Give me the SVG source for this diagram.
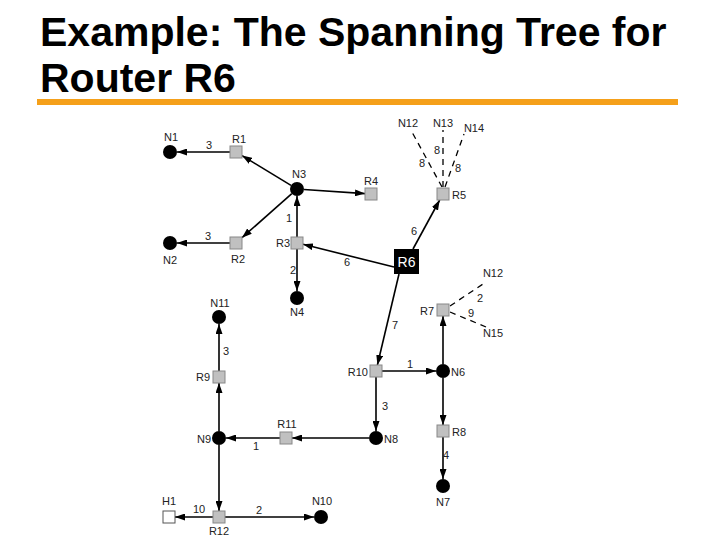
<svg xmlns="http://www.w3.org/2000/svg" width="720" height="540" viewBox="0 0 720 540">
<defs>
<style>
.title{font-family:"Liberation Sans",Arial,sans-serif;font-weight:bold;font-size:41px;fill:#000}
.lbl{font-family:"Liberation Sans",Arial,sans-serif;font-size:11px;fill:#222}
.c{text-anchor:middle}
.e{text-anchor:end}
.edge{stroke:#000;stroke-width:1.6;fill:none;marker-end:url(#arr)}
.dash{stroke:#000;stroke-width:1.3;fill:none;stroke-dasharray:6,5}
.net{fill:#000}
.rt{fill:#c0c0c0;stroke:#888;stroke-width:1}
.host{fill:#fff;stroke:#555;stroke-width:1}
</style>
<marker id="arr" viewBox="0 0 10 10" refX="10" refY="5" markerWidth="10" markerHeight="7" markerUnits="userSpaceOnUse" orient="auto" preserveAspectRatio="none">
<path d="M0,0 L10,5 L0,10 z" fill="#000"/>
</marker>
</defs>
<rect width="720" height="540" fill="#fff"/>
<text class="title" x="40" y="46">Example: The Spanning Tree for</text>
<text class="title" x="40" y="92">Router R6</text>
<rect x="37" y="99" width="641" height="6" fill="#f5a01a"/>

<g id="connectors">
<line class="edge" x1="230" y1="152" x2="177" y2="152"/>
<line class="edge" x1="291" y1="185.4" x2="242" y2="155.6"/>
<line class="edge" x1="304" y1="189.5" x2="365" y2="193.6"/>
<line class="edge" x1="291.8" y1="193.6" x2="242" y2="237.7"/>
<line class="edge" x1="230" y1="243" x2="177" y2="243"/>
<line class="edge" x1="297" y1="237" x2="297" y2="196"/>
<line class="edge" x1="297" y1="249" x2="297" y2="291"/>
<line class="edge" x1="394" y1="267" x2="303" y2="244.3"/>
<line class="edge" x1="413" y1="249" x2="439.7" y2="200"/>
<line class="edge" x1="399" y1="274" x2="377.4" y2="365"/>
<line class="edge" x1="382" y1="371" x2="436" y2="371"/>
<line class="edge" x1="376" y1="377" x2="376" y2="431"/>
<line class="edge" x1="443" y1="364" x2="443" y2="316"/>
<line class="edge" x1="443" y1="378" x2="443" y2="425"/>
<line class="edge" x1="443" y1="437" x2="443" y2="479"/>
<line class="edge" x1="369" y1="438" x2="292" y2="438"/>
<line class="edge" x1="280" y1="438" x2="226" y2="438"/>
<line class="edge" x1="219" y1="431" x2="219" y2="383"/>
<line class="edge" x1="219" y1="371" x2="219" y2="324"/>
<line class="edge" x1="219" y1="445" x2="219" y2="511"/>
<line class="edge" x1="213" y1="517" x2="175" y2="517"/>
<line class="edge" x1="225" y1="517" x2="314" y2="517"/>
<line class="dash" x1="442" y1="187" x2="412" y2="132"/>
<line class="dash" x1="443" y1="187" x2="443" y2="130"/>
<line class="dash" x1="445" y1="187" x2="464" y2="134"/>
<line class="dash" x1="450" y1="306" x2="486" y2="282"/>
<line class="dash" x1="450" y1="312" x2="486" y2="327"/>
<text class="lbl c" x="209" y="149">3</text>
<text class="lbl c" x="208" y="240">3</text>
<text class="lbl c" x="289" y="222">1</text>
<text class="lbl c" x="293" y="274">2</text>
<text class="lbl c" x="347" y="266">6</text>
<text class="lbl c" x="414" y="235">6</text>
<text class="lbl c" x="395" y="329">7</text>
<text class="lbl c" x="410" y="368">1</text>
<text class="lbl c" x="385" y="410">3</text>
<text class="lbl c" x="446" y="459">4</text>
<text class="lbl c" x="256" y="450">1</text>
<text class="lbl c" x="226" y="355">3</text>
<text class="lbl c" x="199" y="513">10</text>
<text class="lbl c" x="259" y="514">2</text>
<text class="lbl c" x="422" y="167">8</text>
<text class="lbl c" x="437" y="154">8</text>
<text class="lbl c" x="458" y="172">8</text>
<text class="lbl c" x="480" y="302">2</text>
<text class="lbl c" x="471" y="317">9</text>
</g>

<g id="N1"><circle class="net" cx="170" cy="152" r="7"/><text class="lbl c" x="171" y="141">N1</text></g>
<g id="R1"><rect class="rt" x="230" y="146" width="12" height="12"/><text class="lbl c" x="239" y="143">R1</text></g>
<g id="N3"><circle class="net" cx="297" cy="189" r="7"/><text class="lbl c" x="299" y="178">N3</text></g>
<g id="R4"><rect class="rt" x="365" y="188" width="12" height="12"/><text class="lbl c" x="371" y="185">R4</text></g>
<g id="R2"><rect class="rt" x="230" y="237" width="12" height="12"/><text class="lbl c" x="238" y="263">R2</text></g>
<g id="N2"><circle class="net" cx="170" cy="243" r="7"/><text class="lbl c" x="170" y="264">N2</text></g>
<g id="R3"><rect class="rt" x="291" y="237" width="12" height="12"/><text class="lbl e" x="290" y="247">R3</text></g>
<g id="N4"><circle class="net" cx="297" cy="298" r="7"/><text class="lbl c" x="297" y="316">N4</text></g>
<g id="R6"><rect x="394" y="249" width="25" height="25" fill="#000"/><text x="406.5" y="267" text-anchor="middle" font-family="Liberation Sans, Arial, sans-serif" font-size="14" fill="#fff">R6</text></g>
<g id="R5"><rect class="rt" x="437" y="188" width="12" height="12"/><text class="lbl" x="452" y="199">R5</text></g>
<g id="N12a"><text class="lbl c" x="408" y="127">N12</text></g>
<g id="N13"><text class="lbl c" x="443" y="127">N13</text></g>
<g id="N14"><text class="lbl c" x="474" y="132">N14</text></g>
<g id="R7"><rect class="rt" x="437" y="304" width="12" height="12"/><text class="lbl e" x="434" y="315">R7</text></g>
<g id="N12b"><text class="lbl c" x="493" y="277">N12</text></g>
<g id="N15"><text class="lbl c" x="493" y="337">N15</text></g>
<g id="R10"><rect class="rt" x="370" y="365" width="12" height="12"/><text class="lbl e" x="368" y="376">R10</text></g>
<g id="N6"><circle class="net" cx="443" cy="371" r="7"/><text class="lbl" x="451" y="376">N6</text></g>
<g id="N8"><circle class="net" cx="376" cy="438" r="7"/><text class="lbl" x="384" y="443">N8</text></g>
<g id="R8"><rect class="rt" x="437" y="425" width="12" height="12"/><text class="lbl" x="452" y="436">R8</text></g>
<g id="N7"><circle class="net" cx="443" cy="486" r="7"/><text class="lbl c" x="443" y="506">N7</text></g>
<g id="R11"><rect class="rt" x="280" y="432" width="12" height="12"/><text class="lbl c" x="287" y="428">R11</text></g>
<g id="N9"><circle class="net" cx="219" cy="438" r="7"/><text class="lbl e" x="211" y="443">N9</text></g>
<g id="R9"><rect class="rt" x="213" y="371" width="12" height="12"/><text class="lbl e" x="210" y="381">R9</text></g>
<g id="N11"><circle class="net" cx="219" cy="317" r="7"/><text class="lbl c" x="220" y="307">N11</text></g>
<g id="R12"><rect class="rt" x="213" y="511" width="12" height="12"/><text class="lbl c" x="219" y="535">R12</text></g>
<g id="H1"><rect class="host" x="163" y="511" width="12" height="12"/><text class="lbl c" x="169" y="505">H1</text></g>
<g id="N10"><circle class="net" cx="321" cy="517" r="7"/><text class="lbl c" x="322" y="505">N10</text></g>
</svg>
